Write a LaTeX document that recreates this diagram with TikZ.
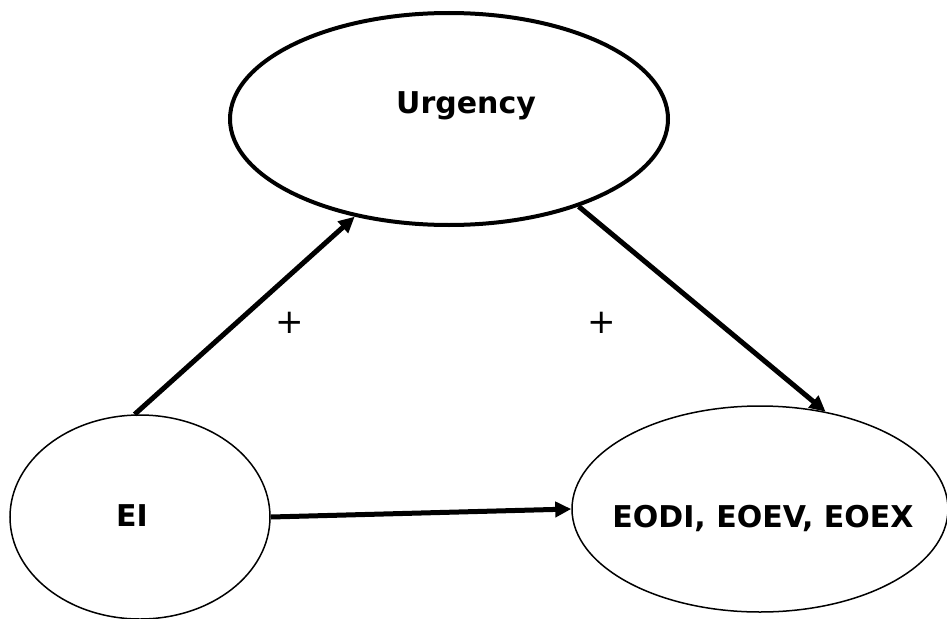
\documentclass[tikz,border=0pt]{standalone}
\usepackage{fontspec}
\setmainfont{DejaVu Sans}
\usetikzlibrary{shapes.geometric,arrows.meta}
\tikzset{
  construct/.style={draw,ellipse,line width=1.5pt,inner sep=0pt},
  varname/.style={font=\fontsize{30}{36}\selectfont\bfseries},
  link/.style={line width=5pt,-{Triangle[length=16pt,width=15pt]}},
  signlabel/.style={font=\fontsize{34}{40}\selectfont}
}
\begin{document}
\begin{tikzpicture}[x=1pt,y=-1pt]
\useasboundingbox (0,0) rectangle (947,618);

\node[construct,line width=4pt,minimum width=438pt,minimum height=212pt] (urg) at (449,119) {};
\node[varname] (urgname) at (466,106) {Urgency};

\node[construct,minimum width=260pt,minimum height=204pt] (ei) at (140,517) {};
\node[varname] (einame) at (132,516) {EI};

\node[construct,minimum width=376pt,minimum height=206pt] (eo) at (760,509) {};
\node[varname] (eoname) at (763,518) {EODI, EOEV, EOEX};

\draw[link] (ei.93) -- (urg.226);
\draw[link] (urg.-34) -- (eo.56);
\draw[link] (ei.east) -- (eo.west);

\node[signlabel] (plusa) at (290,323) {+};
\node[signlabel] (plusb) at (602,323) {+};
\end{tikzpicture}
\end{document}
